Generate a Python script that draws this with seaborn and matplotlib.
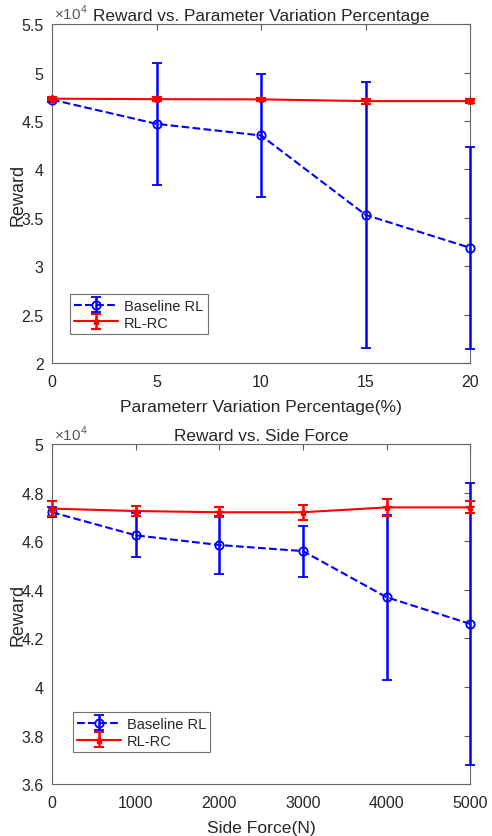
import numpy as np
import seaborn as sns
import matplotlib
matplotlib.use("Agg")
import matplotlib.pyplot as plt
from matplotlib.ticker import FuncFormatter

# ---- data ----
pct = [0, 5, 10, 15, 20]
base_pct = [47200, 44700, 43500, 35300, 31900]
base_pct_err = [200, 6300, 6300, 13700, 10400]
rc_pct = [47300, 47250, 47230, 47050, 47050]
rc_pct_err = [150, 200, 150, 250, 200]

force = [0, 1000, 2000, 3000, 4000, 5000]
base_force = [47200, 46250, 45850, 45600, 43700, 42600]
base_force_err = [200, 900, 1200, 1050, 3400, 5800]
rc_force = [47350, 47250, 47200, 47200, 47400, 47400]
rc_force_err = [300, 200, 200, 300, 350, 250]

sns.set_style("white")
plt.rcParams['font.family'] = ['Liberation Sans', 'DejaVu Sans']
plt.rcParams['mathtext.fontset'] = 'custom'
plt.rcParams['mathtext.rm'] = 'Liberation Sans'

fig = plt.figure(figsize=(4.92, 8.37), dpi=100)
ax1 = fig.add_axes([0.1057, 0.565, 0.850, 0.405])
ax2 = fig.add_axes([0.1057, 0.062, 0.850, 0.406])

txt = '#262626'


def draw(ax, x, b, be, r, re, xlim, ylim, yticks, xlabel, title, leg_xy):
    c1 = ax.errorbar(x, b, yerr=be, fmt='--o', color='blue', mfc='none', ms=6,
                     mew=1.3, lw=1.5, capsize=3.5, capthick=1.5, elinewidth=1.8,
                     label='Baseline RL', zorder=3)
    c2 = ax.errorbar(x, r, yerr=re, fmt='-*', color='red', ms=6, lw=1.5,
                     capsize=3.5, capthick=1.5, elinewidth=1.8, label='RL-RC',
                     zorder=3.1)
    for c in (c1, c2):
        for a in c.get_children():
            a.set_clip_on(False)
    ax.set_xlim(*xlim)
    ax.set_ylim(*ylim)
    ax.set_xticks(x)
    ax.set_yticks(yticks)
    ax.yaxis.set_major_formatter(FuncFormatter(lambda v, p: f"{v / 1e4:g}"))
    ax.tick_params(direction='in', top=True, right=True, length=4,
                   labelsize=11.5, colors='0.35', labelcolor=txt, pad=6)
    ax.tick_params(axis='x', pad=8)
    for s in ax.spines.values():
        s.set_color('0.4')
        s.set_linewidth(0.8)
    ax.set_xlabel(xlabel, fontsize=12.6, color=txt, labelpad=7)
    ax.set_ylabel('Reward', fontsize=13, color=txt)
    ax.yaxis.set_label_coords(-0.06, 0.5)
    ax.set_title(title, fontsize=12.4, color=txt, pad=3)
    ax.text(0.005, 1.005, r'$\times10^4$', transform=ax.transAxes,
            fontsize=11, color='0.35', ha='left', va='bottom')
    leg = ax.legend(loc='lower left', bbox_to_anchor=leg_xy, fontsize=10.5,
                    frameon=True, fancybox=False, borderpad=0.3,
                    handlelength=3.0, labelspacing=0.2, borderaxespad=0,
                    handletextpad=0.4)
    leg.get_frame().set_edgecolor('0.3')
    leg.get_frame().set_linewidth(0.8)


draw(ax1, pct, base_pct, base_pct_err, rc_pct, rc_pct_err, (0, 20),
     (20000, 55000), np.arange(20000, 55001, 5000),
     'Parameterr Variation Percentage(%)',
     'Reward vs. Parameter Variation Percentage', (0.043, 0.086))
draw(ax2, force, base_force, base_force_err, rc_force, rc_force_err, (0, 5000),
     (36000, 50000), np.arange(36000, 50001, 2000),
     'Side Force(N)', 'Reward vs. Side Force', (0.05, 0.094))

fig.savefig('out.png', dpi=100)
